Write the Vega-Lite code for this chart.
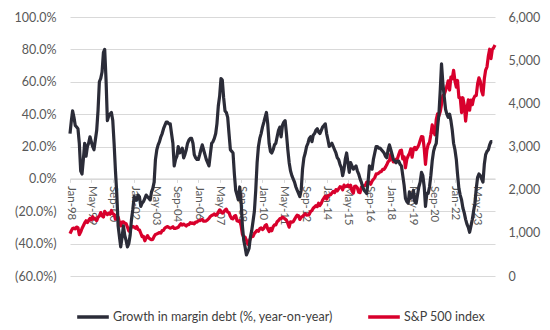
{
"$schema":"https://vega.github.io/schema/vega-lite/v6.json",
"width":425,"height":259,
"autosize":{"type":"none"},
"padding":{"left":70,"top":17,"right":55,"bottom":54},
"background":"white",
"config":{"view":{"stroke":null},"font":"Lato"},
"datasets":{"rows":[
{"d":"1998-01","m":28,"s":980},{"d":"1998-02","m":36,"s":1049},{"d":"1998-03","m":42,"s":1102},{"d":"1998-04","m":38,"s":1112},{"d":"1998-05","m":33,"s":1091},{"d":"1998-06","m":32,"s":1134},{"d":"1998-07","m":31,"s":1121},{"d":"1998-08","m":22,"s":957},{"d":"1998-09","m":5,"s":1017},{"d":"1998-10","m":3,"s":1099},{"d":"1998-11","m":12,"s":1164},{"d":"1998-12","m":22,"s":1229},
{"d":"1999-01","m":14,"s":1280},{"d":"1999-02","m":20,"s":1238},{"d":"1999-03","m":22,"s":1286},{"d":"1999-04","m":26,"s":1335},{"d":"1999-05","m":23,"s":1302},{"d":"1999-06","m":20,"s":1373},{"d":"1999-07","m":18,"s":1329},{"d":"1999-08","m":24,"s":1320},{"d":"1999-09","m":30,"s":1283},{"d":"1999-10","m":42,"s":1363},{"d":"1999-11","m":60,"s":1389},{"d":"1999-12","m":62,"s":1469},
{"d":"2000-01","m":66,"s":1394},{"d":"2000-02","m":78,"s":1366},{"d":"2000-03","m":80,"s":1499},{"d":"2000-04","m":61,"s":1452},{"d":"2000-05","m":36,"s":1421},{"d":"2000-06","m":39,"s":1455},{"d":"2000-07","m":40,"s":1431},{"d":"2000-08","m":41,"s":1518},{"d":"2000-09","m":36,"s":1437},{"d":"2000-10","m":22,"s":1429},{"d":"2000-11","m":5,"s":1315},{"d":"2000-12","m":-9,"s":1320},
{"d":"2001-01","m":-29,"s":1366},{"d":"2001-02","m":-36,"s":1240},{"d":"2001-03","m":-42,"s":1160},{"d":"2001-04","m":-36,"s":1249},{"d":"2001-05","m":-29,"s":1256},{"d":"2001-06","m":-35,"s":1224},{"d":"2001-07","m":-38,"s":1211},{"d":"2001-08","m":-42,"s":1134},{"d":"2001-09","m":-40,"s":1041},{"d":"2001-10","m":-35,"s":1060},{"d":"2001-11","m":-25,"s":1139},{"d":"2001-12","m":-19,"s":1148},
{"d":"2002-01","m":-11,"s":1130},{"d":"2002-02","m":-12,"s":1107},{"d":"2002-03","m":-13,"s":1147},{"d":"2002-04","m":-10,"s":1077},{"d":"2002-05","m":-11,"s":1067},{"d":"2002-06","m":-17,"s":990},{"d":"2002-07","m":-15,"s":912},{"d":"2002-08","m":-14,"s":916},{"d":"2002-09","m":-12,"s":815},{"d":"2002-10","m":-10,"s":886},{"d":"2002-11","m":-11,"s":936},{"d":"2002-12","m":-12,"s":880},
{"d":"2003-01","m":-13,"s":856},{"d":"2003-02","m":-8,"s":841},{"d":"2003-03","m":-6,"s":848},{"d":"2003-04","m":-2,"s":917},{"d":"2003-05","m":12,"s":964},{"d":"2003-06","m":18,"s":975},{"d":"2003-07","m":21,"s":990},{"d":"2003-08","m":23,"s":1008},{"d":"2003-09","m":26,"s":996},{"d":"2003-10","m":28,"s":1051},{"d":"2003-11","m":31,"s":1058},{"d":"2003-12","m":33,"s":1112},
{"d":"2004-01","m":35,"s":1131},{"d":"2004-02","m":35,"s":1145},{"d":"2004-03","m":34,"s":1126},{"d":"2004-04","m":34,"s":1107},{"d":"2004-05","m":28,"s":1121},{"d":"2004-06","m":22,"s":1141},{"d":"2004-07","m":8,"s":1102},{"d":"2004-08","m":12,"s":1104},{"d":"2004-09","m":14,"s":1115},{"d":"2004-10","m":20,"s":1130},{"d":"2004-11","m":16,"s":1174},{"d":"2004-12","m":17,"s":1212},
{"d":"2005-01","m":19,"s":1181},{"d":"2005-02","m":13,"s":1204},{"d":"2005-03","m":15,"s":1181},{"d":"2005-04","m":18,"s":1157},{"d":"2005-05","m":22,"s":1192},{"d":"2005-06","m":24,"s":1191},{"d":"2005-07","m":25,"s":1234},{"d":"2005-08","m":25,"s":1220},{"d":"2005-09","m":22,"s":1229},{"d":"2005-10","m":15,"s":1207},{"d":"2005-11","m":13,"s":1249},{"d":"2005-12","m":12,"s":1248},
{"d":"2006-01","m":12,"s":1280},{"d":"2006-02","m":15,"s":1281},{"d":"2006-03","m":18,"s":1295},{"d":"2006-04","m":21,"s":1311},{"d":"2006-05","m":18,"s":1270},{"d":"2006-06","m":15,"s":1270},{"d":"2006-07","m":12,"s":1277},{"d":"2006-08","m":10,"s":1304},{"d":"2006-09","m":8,"s":1336},{"d":"2006-10","m":15,"s":1378},{"d":"2006-11","m":22,"s":1401},{"d":"2006-12","m":23,"s":1418},
{"d":"2007-01","m":25,"s":1438},{"d":"2007-02","m":28,"s":1407},{"d":"2007-03","m":34,"s":1421},{"d":"2007-04","m":45,"s":1482},{"d":"2007-05","m":51,"s":1531},{"d":"2007-06","m":62,"s":1503},{"d":"2007-07","m":61,"s":1455},{"d":"2007-08","m":50,"s":1474},{"d":"2007-09","m":42,"s":1527},{"d":"2007-10","m":41,"s":1549},{"d":"2007-11","m":38,"s":1481},{"d":"2007-12","m":28,"s":1468},
{"d":"2008-01","m":18,"s":1379},{"d":"2008-02","m":17,"s":1331},{"d":"2008-03","m":16,"s":1323},{"d":"2008-04","m":3,"s":1386},{"d":"2008-05","m":-7,"s":1400},{"d":"2008-06","m":-10,"s":1280},{"d":"2008-07","m":-13,"s":1267},{"d":"2008-08","m":-5,"s":1283},{"d":"2008-09","m":-14,"s":1165},{"d":"2008-10","m":-29,"s":969},{"d":"2008-11","m":-38,"s":896},{"d":"2008-12","m":-42,"s":903},
{"d":"2009-01","m":-47,"s":826},{"d":"2009-02","m":-45,"s":735},{"d":"2009-03","m":-43,"s":798},{"d":"2009-04","m":-36,"s":873},{"d":"2009-05","m":-32,"s":919},{"d":"2009-06","m":-26,"s":919},{"d":"2009-07","m":-20,"s":987},{"d":"2009-08","m":-7,"s":1021},{"d":"2009-09","m":10,"s":1057},{"d":"2009-10","m":20,"s":1036},{"d":"2009-11","m":25,"s":1096},{"d":"2009-12","m":28,"s":1115},
{"d":"2010-01","m":32,"s":1074},{"d":"2010-02","m":35,"s":1104},{"d":"2010-03","m":38,"s":1169},{"d":"2010-04","m":41,"s":1187},{"d":"2010-05","m":34,"s":1089},{"d":"2010-06","m":22,"s":1031},{"d":"2010-07","m":17,"s":1102},{"d":"2010-08","m":16,"s":1049},{"d":"2010-09","m":18,"s":1141},{"d":"2010-10","m":21,"s":1183},{"d":"2010-11","m":22,"s":1181},{"d":"2010-12","m":26,"s":1258},
{"d":"2011-01","m":30,"s":1286},{"d":"2011-02","m":32,"s":1327},{"d":"2011-03","m":26,"s":1326},{"d":"2011-04","m":33,"s":1364},{"d":"2011-05","m":35,"s":1345},{"d":"2011-06","m":36,"s":1321},{"d":"2011-07","m":28,"s":1292},{"d":"2011-08","m":18,"s":1219},{"d":"2011-09","m":10,"s":1131},{"d":"2011-10","m":5,"s":1253},{"d":"2011-11","m":2,"s":1247},{"d":"2011-12","m":0,"s":1258},
{"d":"2012-01","m":-2,"s":1312},{"d":"2012-02","m":-5,"s":1366},{"d":"2012-03","m":-7,"s":1408},{"d":"2012-04","m":-9,"s":1398},{"d":"2012-05","m":-11,"s":1310},{"d":"2012-06","m":-7,"s":1362},{"d":"2012-07","m":6,"s":1379},{"d":"2012-08","m":13,"s":1407},{"d":"2012-09","m":16,"s":1441},{"d":"2012-10","m":20,"s":1412},{"d":"2012-11","m":22,"s":1416},{"d":"2012-12","m":25,"s":1426},
{"d":"2013-01","m":26,"s":1498},{"d":"2013-02","m":23,"s":1515},{"d":"2013-03","m":27,"s":1569},{"d":"2013-04","m":28,"s":1598},{"d":"2013-05","m":30,"s":1631},{"d":"2013-06","m":31,"s":1606},{"d":"2013-07","m":29,"s":1686},{"d":"2013-08","m":28,"s":1633},{"d":"2013-09","m":30,"s":1682},{"d":"2013-10","m":32,"s":1757},{"d":"2013-11","m":33,"s":1806},{"d":"2013-12","m":34,"s":1848},
{"d":"2014-01","m":28,"s":1783},{"d":"2014-02","m":24,"s":1859},{"d":"2014-03","m":20,"s":1872},{"d":"2014-04","m":21,"s":1884},{"d":"2014-05","m":22,"s":1924},{"d":"2014-06","m":20,"s":1960},{"d":"2014-07","m":18,"s":1931},{"d":"2014-08","m":16,"s":2003},{"d":"2014-09","m":13,"s":1972},{"d":"2014-10","m":12,"s":2018},{"d":"2014-11","m":9,"s":2068},{"d":"2014-12","m":7,"s":2059},
{"d":"2015-01","m":2,"s":1995},{"d":"2015-02","m":6,"s":2105},{"d":"2015-03","m":12,"s":2068},{"d":"2015-04","m":16,"s":2086},{"d":"2015-05","m":10,"s":2107},{"d":"2015-06","m":4,"s":2063},{"d":"2015-07","m":10,"s":2104},{"d":"2015-08","m":8,"s":1972},{"d":"2015-09","m":6,"s":1920},{"d":"2015-10","m":7,"s":2079},{"d":"2015-11","m":8,"s":2080},{"d":"2015-12","m":5,"s":2044},
{"d":"2016-01","m":3,"s":1940},{"d":"2016-02","m":0,"s":1932},{"d":"2016-03","m":-2,"s":2060},{"d":"2016-04","m":-5,"s":2065},{"d":"2016-05","m":-7,"s":2097},{"d":"2016-06","m":-8,"s":2099},{"d":"2016-07","m":-9,"s":2174},{"d":"2016-08","m":-2,"s":2171},{"d":"2016-09","m":8,"s":2168},{"d":"2016-10","m":7,"s":2126},{"d":"2016-11","m":6,"s":2199},{"d":"2016-12","m":12,"s":2239},
{"d":"2017-01","m":16,"s":2279},{"d":"2017-02","m":20,"s":2364},{"d":"2017-03","m":20,"s":2363},{"d":"2017-04","m":19,"s":2384},{"d":"2017-05","m":19,"s":2412},{"d":"2017-06","m":18,"s":2423},{"d":"2017-07","m":17,"s":2470},{"d":"2017-08","m":16,"s":2472},{"d":"2017-09","m":14,"s":2519},{"d":"2017-10","m":13,"s":2575},{"d":"2017-11","m":18,"s":2648},{"d":"2017-12","m":21,"s":2674},
{"d":"2018-01","m":18,"s":2824},{"d":"2018-02","m":15,"s":2714},{"d":"2018-03","m":12,"s":2641},{"d":"2018-04","m":11,"s":2648},{"d":"2018-05","m":10,"s":2705},{"d":"2018-06","m":11,"s":2718},{"d":"2018-07","m":11,"s":2816},{"d":"2018-08","m":9,"s":2902},{"d":"2018-09","m":8,"s":2914},{"d":"2018-10","m":2,"s":2712},{"d":"2018-11","m":-4,"s":2760},{"d":"2018-12","m":-12,"s":2507},
{"d":"2019-01","m":-14,"s":2704},{"d":"2019-02","m":-15,"s":2784},{"d":"2019-03","m":-8,"s":2834},{"d":"2019-04","m":-12,"s":2946},{"d":"2019-05","m":-11,"s":2752},{"d":"2019-06","m":-7,"s":2942},{"d":"2019-07","m":-14,"s":2980},{"d":"2019-08","m":-15,"s":2926},{"d":"2019-09","m":-10,"s":2977},{"d":"2019-10","m":-5,"s":3038},{"d":"2019-11","m":-2,"s":3141},{"d":"2019-12","m":4,"s":3231},
{"d":"2020-01","m":2,"s":3226},{"d":"2020-02","m":-5,"s":2954},{"d":"2020-03","m":-17,"s":2585},{"d":"2020-04","m":-9,"s":2912},{"d":"2020-05","m":-9,"s":3044},{"d":"2020-06","m":-5,"s":3100},{"d":"2020-07","m":2,"s":3271},{"d":"2020-08","m":11,"s":3500},{"d":"2020-09","m":17,"s":3363},{"d":"2020-10","m":20,"s":3270},{"d":"2020-11","m":22,"s":3622},{"d":"2020-12","m":32,"s":3756},
{"d":"2021-01","m":40,"s":3714},{"d":"2021-02","m":55,"s":3811},{"d":"2021-03","m":71,"s":3973},{"d":"2021-04","m":59,"s":4181},{"d":"2021-05","m":51,"s":4204},{"d":"2021-06","m":43,"s":4298},{"d":"2021-07","m":40,"s":4395},{"d":"2021-08","m":38,"s":4523},{"d":"2021-09","m":40,"s":4308},{"d":"2021-10","m":36,"s":4605},{"d":"2021-11","m":30,"s":4567},{"d":"2021-12","m":22,"s":4766},
{"d":"2022-01","m":18,"s":4516},{"d":"2022-02","m":12,"s":4374},{"d":"2022-03","m":3,"s":4530},{"d":"2022-04","m":-6,"s":4132},{"d":"2022-05","m":-10,"s":4132},{"d":"2022-06","m":-13,"s":3785},{"d":"2022-07","m":-18,"s":4130},{"d":"2022-08","m":-21,"s":3955},{"d":"2022-09","m":-25,"s":3586},{"d":"2022-10","m":-28,"s":3872},{"d":"2022-11","m":-30,"s":4080},{"d":"2022-12","m":-33,"s":3840},
{"d":"2023-01","m":-29,"s":4077},{"d":"2023-02","m":-25,"s":3970},{"d":"2023-03","m":-20,"s":4109},{"d":"2023-04","m":-15,"s":4169},{"d":"2023-05","m":-6,"s":4180},{"d":"2023-06","m":1,"s":4450},{"d":"2023-07","m":3,"s":4589},{"d":"2023-08","m":2,"s":4508},{"d":"2023-09","m":0,"s":4288},{"d":"2023-10","m":-2,"s":4194},{"d":"2023-11","m":9,"s":4568},{"d":"2023-12","m":15,"s":4770},
{"d":"2024-01","m":17,"s":4846},{"d":"2024-02","m":18,"s":5096},{"d":"2024-03","m":21,"s":5254},{"d":"2024-04","m":23,"s":5036},{"d":"2024-05","m":23,"s":5250},{"d":"2024-06","m":null,"s":5290},{"d":"2024-07","m":null,"s":5350}
]},
"data":{"name":"rows"},
"encoding":{
 "x":{"field":"d","type":"temporal","scale":{"type":"utc","domain":[{"year":1998,"month":1,"date":1,"utc":true},{"year":2024,"month":7,"date":1,"utc":true}]},
  "axis":{"orient":"bottom","offset":-97.6,"title":null,"format":"%b-%y","labelAngle":90,"labelAlign":"left","labelBaseline":"middle","labelFontSize":11.5,"labelColor":"#595959","labelPadding":3,"labelOverlap":false,"grid":false,"domain":true,"domainColor":"#d9d9d9","domainWidth":1,"ticks":true,"tickSize":4,"tickColor":"#d9d9d9",
   "values":[{"year":1998,"month":1,"date":1,"utc":true},{"year":1999,"month":5,"date":1,"utc":true},{"year":2000,"month":9,"date":1,"utc":true},{"year":2002,"month":1,"date":1,"utc":true},{"year":2003,"month":5,"date":1,"utc":true},{"year":2004,"month":9,"date":1,"utc":true},{"year":2006,"month":1,"date":1,"utc":true},{"year":2007,"month":5,"date":1,"utc":true},{"year":2008,"month":9,"date":1,"utc":true},{"year":2010,"month":1,"date":1,"utc":true},{"year":2011,"month":5,"date":1,"utc":true},{"year":2012,"month":9,"date":1,"utc":true},{"year":2014,"month":1,"date":1,"utc":true},{"year":2015,"month":5,"date":1,"utc":true},{"year":2016,"month":9,"date":1,"utc":true},{"year":2018,"month":1,"date":1,"utc":true},{"year":2019,"month":5,"date":1,"utc":true},{"year":2020,"month":9,"date":1,"utc":true},{"year":2022,"month":1,"date":1,"utc":true},{"year":2023,"month":5,"date":1,"utc":true}]}}
},
"layer":[
 {"mark":{"type":"line","strokeWidth":3.2,"strokeJoin":"round"},
  "encoding":{
   "y":{"field":"s","type":"quantitative","scale":{"domain":[0,6000],"nice":false,"zero":false},
    "axis":{"orient":"right","title":null,"values":[0,1000,2000,3000,4000,5000,6000],"format":",.0f","grid":false,"domain":false,"ticks":false,"labelPadding":13,"labelFontSize":12.5,"labelColor":"#595959"}},
   "color":{"datum":"S&P 500 index","type":"nominal","scale":{"domain":["Growth in margin debt (%, year-on-year)","S&P 500 index"],"range":["#2b2c38","#d8002c"]},
    "legend":{"orient":"none","legendX":5,"legendY":282,"direction":"horizontal","title":null,"symbolType":"stroke","symbolStrokeWidth":3.5,"symbolSize":1000,"labelFontSize":12.5,"labelColor":"#404040","labelLimit":0,"columnPadding":28,"labelOffset":2}}
  }},
 {"mark":{"type":"line","strokeWidth":3.2,"strokeJoin":"round"},
  "encoding":{
   "y":{"field":"m","type":"quantitative","scale":{"domain":[-60,100],"nice":false,"zero":false},
    "axis":{"orient":"left","title":null,"values":[-60,-40,-20,0,20,40,60,80,100],"labelExpr":"datum.value < 0 ? '(' + format(-datum.value, '.1f') + '%)' : format(datum.value, '.1f') + '%'","grid":true,"gridColor":"#d9d9d9","gridWidth":1,"domain":false,"ticks":false,"labelPadding":14,"labelFontSize":12.5,"labelColor":"#595959"}},
   "color":{"datum":"Growth in margin debt (%, year-on-year)","type":"nominal"}
  }}
],
"resolve":{"scale":{"y":"independent"}}
}
